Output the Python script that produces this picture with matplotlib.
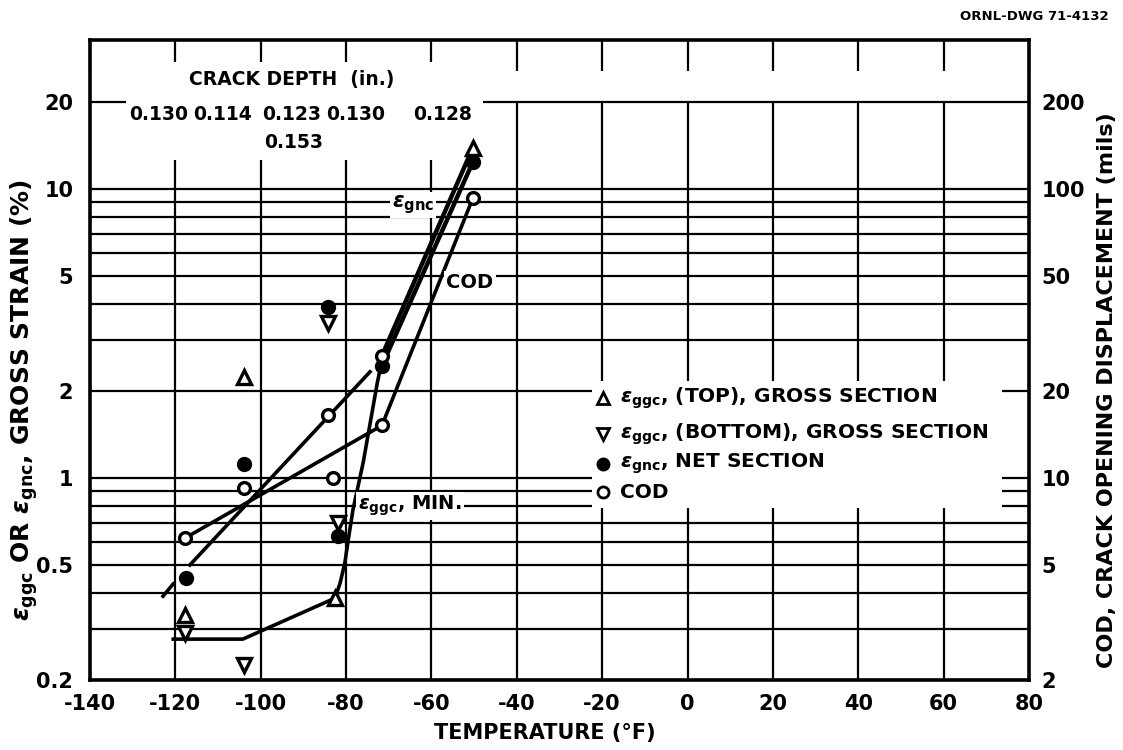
import numpy as np
import matplotlib
matplotlib.use('Agg')
import matplotlib.pyplot as plt
from matplotlib.patches import Rectangle

plt.rcParams['font.family'] = ['DejaVu Sans']
plt.rcParams['font.weight'] = 'bold'
plt.rcParams['mathtext.fontset'] = 'dejavusans'
plt.rcParams['axes.unicode_minus'] = False

# ---------------- data ----------------
# markers
top_T = [-117.7, -103.9, -82.6, -50.3]          # eps_ggc (TOP), gross section
top_v = [0.335, 2.23, 0.384, 13.9]
bot_T = [-117.7, -103.9, -84.2, -82.0]          # eps_ggc (BOTTOM), gross section
bot_v = [0.29, 0.225, 3.45, 0.70]
net_T = [-117.4, -103.9, -84.2, -82.0, -71.6, -50.3]   # eps_gnc, net section
net_v = [0.45, 1.12, 3.9, 0.63, 2.45, 12.4]
cod_T = [-117.7, -103.9, -84.2, -83.0, -71.6, -71.6, -50.3]   # COD
cod_v = [0.62, 0.92, 1.65, 1.0, 2.65, 1.52, 9.3]

# curves
gnc_curve_T = [-71.6, -50.3]
gnc_curve_v = [2.45, 12.4]
top_curve_T = [-71.6, -50.3]
top_curve_v = [2.65, 13.9]
cod_curve_T = [-117.7, -71.6, -50.3]
cod_curve_v = [0.62, 1.52, 9.3]
min_curve_T = [-120.5, -104.2, -82.6, -81.4, -80.3, -79.5, -78.4, -76.0, -72.7, -71.6]
min_curve_v = [0.277, 0.277, 0.384, 0.433, 0.508, 0.61, 0.775, 1.13, 2.13, 2.55]
steep_a_T = [-122.9, -120.5]
steep_a_v = [0.39, 0.43]
steep_b_T = [-116.6, -74.4]
steep_b_v = [0.50, 2.33]

crack_depths = ['0.130', '0.114', '0.123', '0.130', '0.128']
crack_depth_2 = '0.153'

x_ticks = [-140, -120, -100, -80, -60, -40, -20, 0, 20, 40, 60, 80]
y_ticks = [0.2, 0.5, 1, 2, 5, 10, 20]
y_labels = ['0.2', '0.5', '1', '2', '5', '10', '20']
y2_labels = ['2', '5', '10', '20', '50', '100', '200']
grid_y = [0.2, 0.3, 0.4, 0.5, 0.6, 0.7, 0.8, 0.9, 1, 2, 3, 4, 5, 6, 7, 8, 9, 10, 20]

# ---------------- figure ----------------
W, H = 1123, 750
fig = plt.figure(figsize=(W / 100, H / 100), dpi=100)
L, R, B, T = 90, 1029, 680, 40
ax = fig.add_axes([L / W, 1 - B / H, (R - L) / W, (B - T) / H])
ax.set_yscale('log')
ax.set_xlim(-140, 80)
ax.set_ylim(0.2, 0.2 * 10 ** ((B - T) / 289.0))

def px2data(px, py):
    inv = ax.transData.inverted()
    return inv.transform((px, H - py))

# grid
ax.hlines(grid_y, -140, 80, color='black', lw=1.6, zorder=1)
ax.vlines(x_ticks[1:-1], 0.2, 20, color='black', lw=1.6, zorder=1)

for s in ax.spines.values():
    s.set_linewidth(2.6)

ax.set_xticks(x_ticks)
ax.set_xticklabels([str(v) for v in x_ticks], fontsize=15)
ax.set_yticks(y_ticks)
ax.set_yticklabels(y_labels, fontsize=15)
ax.minorticks_off()
ax.tick_params(axis='x', which='both', direction='in', length=22, width=1.6,
               top=True, bottom=False, pad=10)
ax.tick_params(axis='y', which='both', length=0, pad=12)
ax2 = ax.twinx()
ax2.set_yscale('log')
ax2.set_ylim(2, 10 * ax.get_ylim()[1])
ax2.set_yticks([10 * v for v in y_ticks])
ax2.set_yticklabels(y2_labels, fontsize=15)
ax2.minorticks_off()
ax2.tick_params(axis='y', which='both', length=0, pad=9)
for s in ax2.spines.values():
    s.set_visible(False)

# white masks (legend area, crack-depth block)
fig.canvas.draw()
def mask(x0, y0, x1, y1):
    a = px2data(x0, y1)
    b = px2data(x1, y0)
    ax.add_patch(Rectangle((a[0], a[1]), b[0] - a[0], b[1] - a[1],
                           facecolor='white', edgecolor='none', zorder=2))
mask(592, 381, 1002, 508)
mask(126, 62, 483, 160)

lw = 2.6
ax.plot(cod_curve_T, cod_curve_v, color='black', lw=lw, zorder=4)
ax.plot(min_curve_T, min_curve_v, color='black', lw=lw, zorder=4)
ax.plot(top_curve_T, top_curve_v, color='black', lw=lw + 0.6, zorder=4)
ax.plot(gnc_curve_T, gnc_curve_v, color='black', lw=lw + 0.6, zorder=4)
ax.plot(steep_a_T, steep_a_v, color='black', lw=lw, zorder=4)
ax.plot(steep_b_T, steep_b_v, color='black', lw=lw, zorder=4)

mk = dict(color='black', ls='none', zorder=5)
ax.plot(top_T, top_v, marker='^', ms=9.5, mfc='white', mew=2.4, **mk)
ax.plot(bot_T, bot_v, marker='v', ms=9.5, mfc='white', mew=2.4, **mk)
ax.plot(net_T, net_v, marker='o', ms=9.5, mfc='black', mew=1.5, **mk)
ax.plot(cod_T, cod_v, marker='o', ms=8.5, mfc='white', mew=2.4, **mk)

# crack depth labels
tb = dict(ha='center', va='center', fontsize=13.5, zorder=6)
ax.text(*px2data(292, 80), 'CRACK DEPTH  (in.)', **tb)
for x, s in zip([159, 222, 292, 356, 443], crack_depths):
    ax.text(*px2data(x, 114), s, **tb)
ax.text(*px2data(294, 143), crack_depth_2, **tb)

# curve labels
bbox = dict(facecolor='white', edgecolor='none', pad=1.5)
ax.text(*px2data(413, 205), r'$\epsilon_{\mathbf{gnc}}$', fontsize=15,
        ha='center', va='center', zorder=6, bbox=bbox)
ax.text(*px2data(470, 283), 'COD', fontsize=14, ha='center', va='center',
        zorder=6, bbox=bbox)
ax.text(*px2data(358, 506), r'$\epsilon_{\mathbf{ggc}}$, MIN.', fontsize=14,
        ha='left', va='center', zorder=6, bbox=bbox)

# legend
leg_items = [('^', 'white', r'$\epsilon_{\mathbf{ggc}}$, (TOP), GROSS SECTION', 398),
             ('v', 'white', r'$\epsilon_{\mathbf{ggc}}$, (BOTTOM), GROSS SECTION', 434),
             ('o', 'black', r'$\epsilon_{\mathbf{gnc}}$, NET SECTION', 464),
             ('o', 'white', 'COD', 492)]
for m, fc, lab, py in leg_items:
    x, y = px2data(603, py)
    ax.plot([x], [y], marker=m, ms=8, mfc=fc, mew=2, color='black', zorder=7)
    x2, _ = px2data(620, py)
    ax.text(x2, y, lab, fontsize=14.5, ha='left', va='center', zorder=7)

# axis labels
fig.text(24 / W, 1 - 400 / H, r'$\epsilon_{\mathbf{ggc}}$ OR $\epsilon_{\mathbf{gnc}}$, GROSS STRAIN (%)',
         rotation=90, ha='center', va='center', fontsize=18)
fig.text(1107 / W, 1 - 390 / H, 'COD, CRACK OPENING DISPLACEMENT (mils)',
         rotation=90, ha='center', va='center', fontsize=16)
fig.text(545 / W, 1 - 733 / H, 'TEMPERATURE (°F)', ha='center', va='center', fontsize=15)
fig.text(1034 / W, 1 - 16 / H, 'ORNL-DWG 71-4132', ha='center', va='center', fontsize=9.5)

fig.savefig('out.png', dpi=100, facecolor='white')
